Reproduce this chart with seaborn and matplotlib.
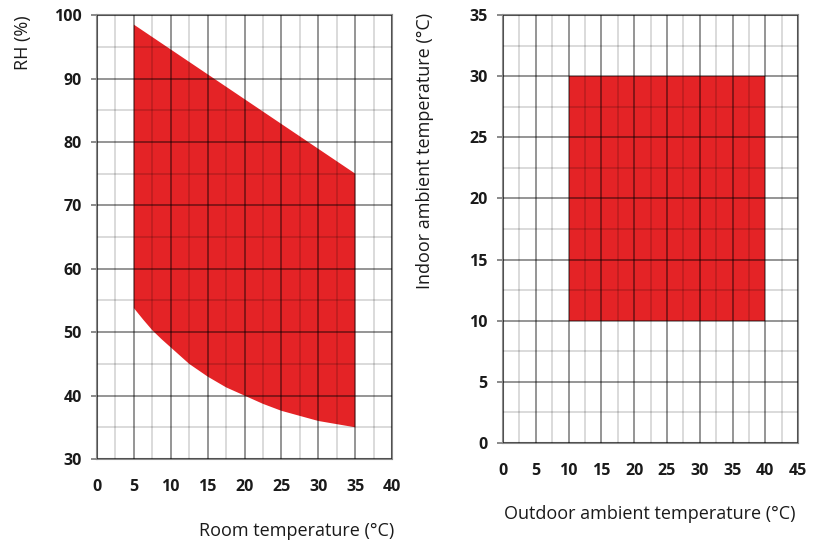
import numpy as np
import matplotlib
matplotlib.use("Agg")
import matplotlib.pyplot as plt
import seaborn as sns
from matplotlib.ticker import MultipleLocator

# operating range data
room_temp_top = [5, 35]
rh_top = [98.5, 75]
room_temp_bottom = [5, 6.25, 7.5, 8.75, 10, 12.5, 15, 17.5, 20, 22.5, 25, 27.5, 30, 32.5, 35]
rh_bottom = [53.8, 52.0, 50.3, 48.9, 47.6, 45.0, 43.0, 41.3, 40, 38.7, 37.6, 36.8, 36, 35.5, 35]

outdoor_temp = [10, 40]
indoor_min = [10, 10]
indoor_max = [30, 30]

red = "#E42326"

sns.set_style("white")
plt.rcParams['font.family'] = ['Open Sans', 'DejaVu Sans']

fig = plt.figure(figsize=(8.22, 5.42), dpi=100)
ax1 = fig.add_axes([0.118, 0.1531, 0.359, 0.819])
ax2 = fig.add_axes([0.612, 0.1827, 0.359, 0.7897])

# left chart: polygon from upper line and lower curve
poly_x = room_temp_top + room_temp_bottom[::-1]
poly_y = rh_top + rh_bottom[::-1]
ax1.fill(poly_x, poly_y, color=red, lw=0, zorder=1)

# right chart: rectangle
ax2.fill_between(outdoor_temp, indoor_min, indoor_max, color=red, lw=0, zorder=1)

def style_axes(ax, xmax, ymin, ymax, ymaj, ymin_step):
    ax.set_xlim(0, xmax)
    ax.set_ylim(ymin, ymax)
    ax.xaxis.set_major_locator(MultipleLocator(5))
    ax.xaxis.set_minor_locator(MultipleLocator(2.5))
    ax.yaxis.set_major_locator(MultipleLocator(ymaj))
    ax.yaxis.set_minor_locator(MultipleLocator(ymin_step))
    ax.set_axisbelow(False)
    # black with alpha so lines darken the red fill like the original
    ax.grid(which='major', color='black', alpha=0.42, lw=1.4)
    ax.grid(which='minor', color='black', alpha=0.17, lw=1.2)
    for s in ax.spines.values():
        s.set_color('#8a8a8a')
        s.set_linewidth(1.5)
    ax.tick_params(axis='y', which='major', left=True, length=4, width=1.4,
                   color='#8a8a8a', pad=7)
    ax.tick_params(axis='y', which='minor', left=False)
    ax.tick_params(axis='x', which='both', bottom=False, pad=11)
    for lbl in ax.get_xticklabels() + ax.get_yticklabels():
        lbl.set_fontweight('bold')
        lbl.set_fontsize(11.5)
        lbl.set_color('#1a1a1a')

style_axes(ax1, 40, 30, 100, 10, 5)
style_axes(ax2, 45, 0, 35, 5, 2.5)

ax1.set_xlabel("Room temperature (°C)", fontsize=13, color='#1a1a1a')
ax1.set_ylabel("RH (%)", fontsize=13, color='#1a1a1a')
ax2.set_xlabel("Outdoor ambient temperature (°C)", fontsize=13, color='#1a1a1a')
ax2.set_ylabel("Indoor ambient temperature (°C)", fontsize=13, color='#1a1a1a')

ax1.xaxis.set_label_coords(0.678, -0.162)
ax1.yaxis.set_label_coords(-0.251, 0.939)
ax2.xaxis.set_label_coords(0.498, -0.166)
ax2.yaxis.set_label_coords(-0.264, 0.682)
for ax in (ax1, ax2):
    ax.xaxis.label.set_va('center')
    ax.yaxis.label.set_va('center')

fig.savefig("out.png", dpi=100)
